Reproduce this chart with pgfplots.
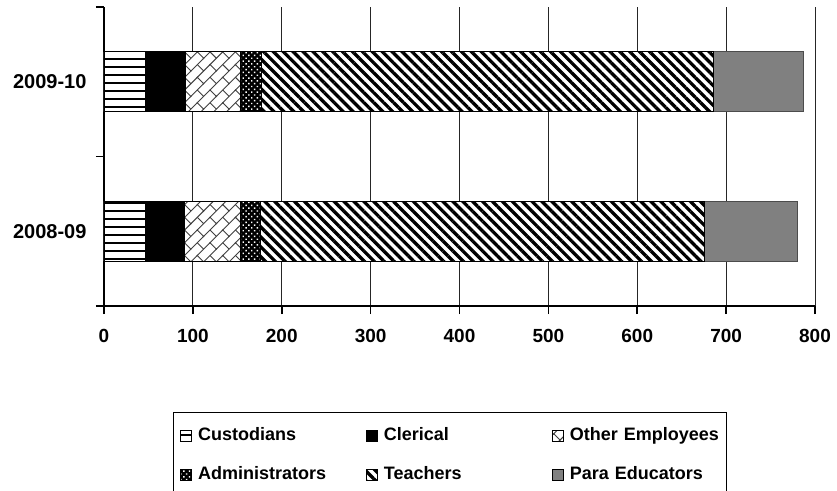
\documentclass[border=0pt]{standalone}
\usepackage{fontspec}
\setmainfont{Liberation Sans}
\usepackage{pgfplots}
\pgfplotsset{compat=1.18}
\usetikzlibrary{patterns.meta}

\tikzdeclarepattern{
  name=DiagBrick,
  type=uncolored,
  bounding box={(-1bp,-1bp) and (19bp,19bp)},
  tile size={(18bp,18bp)},
  tile transformation={rotate=45},
  code={
    \pgfsetlinewidth{0.9bp}
    \pgfpathmoveto{\pgfpoint{-1bp}{0bp}}\pgfpathlineto{\pgfpoint{19bp}{0bp}}
    \pgfpathmoveto{\pgfpoint{-1bp}{9bp}}\pgfpathlineto{\pgfpoint{19bp}{9bp}}
    \pgfpathmoveto{\pgfpoint{0bp}{0bp}}\pgfpathlineto{\pgfpoint{0bp}{9bp}}
    \pgfpathmoveto{\pgfpoint{9bp}{9bp}}\pgfpathlineto{\pgfpoint{9bp}{18bp}}
    \pgfusepath{stroke}
  }
}

\newcommand{\lblfont}{\fontsize{18bp}{21bp}\selectfont\bfseries}
\newcommand{\xfont}{\fontsize{19bp}{22bp}\selectfont\bfseries}
\newcommand{\yfont}{\fontsize{20bp}{23bp}\selectfont\bfseries}

\pgfplotsset{
  mylegend/.style={legend image code/.code={\draw[##1, line width=0.8bp, draw=black] (0bp,-5.5bp) rectangle (11bp,5.5bp);}},
}

\begin{document}
\begin{tikzpicture}
\path[use as bounding box] (-104bp,-185bp) rectangle (733bp,306bp);
\begin{axis}[
  at={(0,0)}, anchor=south west,
  scale only axis, width=711bp, height=299bp,
  xbar stacked, bar width=0.4,
  xmin=0, xmax=800, ymin=-0.5, ymax=1.5,
  xtick={0,100,...,800},
  ytick={-0.5,0.5,1.5}, yticklabels={},
  extra y ticks={0,1}, extra y tick labels={2008-09,2009-10},
  extra y tick style={major tick length=0pt, yticklabel style={font=\yfont, xshift=-14bp}},
  axis lines*=left,
  axis line style={line width=1.6bp, black},
  tick align=outside, major tick length=8bp,
  major tick style={line width=1.6bp, black},
  xmajorgrids, grid style={line width=0.8bp, black!85},
  ticklabel style={/pgf/number format/assume math mode=true},
  xticklabel style={font=\xfont, yshift=-12bp},
  legend columns=3,
  legend cell align=left,
  legend style={
    at={(0.097,-0.3545)}, anchor=north west,
    draw=black, line width=0.8bp,
    inner xsep=7bp, inner ysep=15bp,
    font=\lblfont,
    row sep=22bp, column sep=0bp,
    nodes={inner sep=0bp, text height=13bp, text depth=4bp},
    /tikz/every odd column/.append style={column sep=6bp},
    /tikz/every even column/.append style={column sep=18bp, nodes={text width=150bp, align=left}},
  },
  every axis plot/.append style={draw=black, line width=0.8bp},
]
\addplot[mylegend, fill=white, postaction={pattern={Lines[angle=0,distance=8bp,line width=2bp]}, pattern color=black}]
  coordinates {(47,0) (47,1)};
\addplot[mylegend, fill=black]
  coordinates {(43,0) (45,1)};
\addplot[mylegend, fill=white, postaction={pattern=DiagBrick, pattern color=black!75}]
  coordinates {(63,0) (61,1)};
\addplot[mylegend, fill=black, postaction={pattern={Dots[radius=1bp,distance=4bp,angle=45]}, pattern color=white}]
  coordinates {(23,0) (24,1)};
\addplot[mylegend, fill=white, postaction={pattern={Lines[angle=-45,distance=7bp,line width=3.3bp]}, pattern color=black}]
  coordinates {(499,0) (509,1)};
\addplot[mylegend, fill={rgb,255:red,128;green,128;blue,128}, draw=black!70]
  coordinates {(105,0) (101,1)};
\legend{Custodians, Clerical, Other Employees, Administrators, Teachers, Para Educators}
\end{axis}
\end{tikzpicture}
\end{document}
